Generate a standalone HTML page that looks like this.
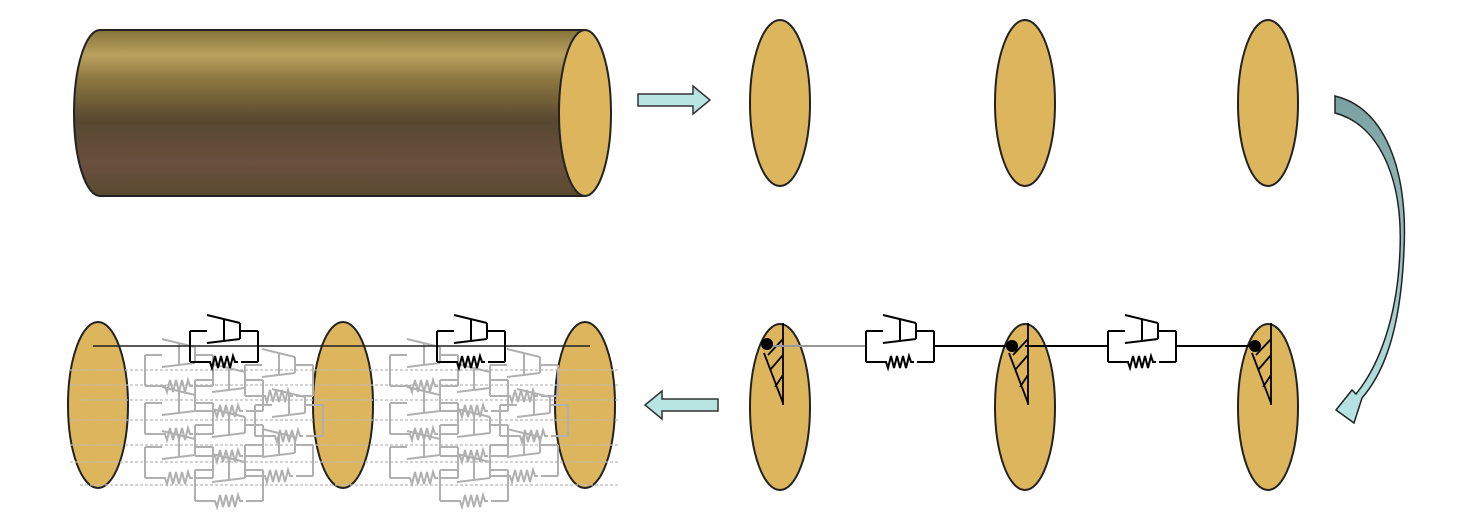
<!DOCTYPE html>
<html><head><meta charset="utf-8"><style>html,body{margin:0;padding:0;background:#fff}svg{display:block}</style></head><body>
<svg width="1476" height="531" viewBox="0 0 1476 531" xmlns="http://www.w3.org/2000/svg">
<defs>
<linearGradient id="cyl" x1="0" y1="0" x2="0" y2="1">
<stop offset="0" stop-color="#857238"/><stop offset="0.15" stop-color="#bba15f"/><stop offset="0.3" stop-color="#8c7640"/>
<stop offset="0.55" stop-color="#574830"/><stop offset="0.8" stop-color="#6a4f3e"/><stop offset="1" stop-color="#5a4a30"/></linearGradient>
<linearGradient id="arr" x1="0" y1="0" x2="0" y2="1"><stop offset="0" stop-color="#7aa0a0"/><stop offset="1" stop-color="#b8e6e4"/></linearGradient>
<g id="kv" fill="none" stroke-width="2">
<path d="M0,-15V16M68,-15V16M0,-15H17M0,16H17M51,16H68M51,-15H68"/>
<path d="M17,-31L50,-23M17,-3L50,-7M34,-27V-5M50,-23V-7"/>
<path d="M17,16h3l2,6l3,-12l3,12l3,-12l3,12l3,-12l3,12l3,-12l2,6h3"/>
</g>
<g id="sup" fill="none" stroke="#000" stroke-width="1.8">
<path d="M3,-82V0M-16,-52L3,-2M3,-50L-10,-35M3,-30L-5,-18M3,-66L-12,-50"/>
</g>
</defs>
<path d="M100,30H585V196H100Z" fill="url(#cyl)"/>
<ellipse cx="100" cy="113" rx="26" ry="83" fill="url(#cyl)"/>
<path d="M100,30H585M100,196H585" stroke="#222" stroke-width="2"/>
<path d="M100,30A26,83 0 0 0 100,196" fill="none" stroke="#222" stroke-width="2"/>
<ellipse cx="585" cy="113" rx="26" ry="83" fill="#ddb55c" stroke="#222" stroke-width="2"/>
<g fill="#ddb55c" stroke="#222" stroke-width="2">
<ellipse cx="780" cy="103" rx="30" ry="83"/><ellipse cx="1025" cy="103" rx="30" ry="83"/><ellipse cx="1268" cy="103" rx="30" ry="83"/>
<ellipse cx="780" cy="407" rx="30" ry="83"/><ellipse cx="1025" cy="407" rx="30" ry="83"/><ellipse cx="1268" cy="407" rx="30" ry="83"/>
<ellipse cx="98" cy="405" rx="30" ry="83"/><ellipse cx="343" cy="405" rx="30" ry="83"/><ellipse cx="585" cy="405" rx="30" ry="83"/>
</g>
<path d="M638,94H693V86L710,100L693,114V106H638Z" fill="#b8e4e2" stroke="#333" stroke-width="1.5"/>
<path d="M718,399H662V391L645,405L662,419V411H718Z" fill="#b8e4e2" stroke="#333" stroke-width="1.5"/>
<path d="M1335,96C1385,108 1408,170 1404,250C1401,320 1388,368 1362,398L1354,423L1336,410L1352,390L1356,394C1382,362 1398,310 1400,250C1403,180 1380,125 1335,113Z" fill="url(#arr)" stroke="#222" stroke-width="1.5"/>
<use href="#sup" x="780" y="405"/><use href="#sup" x="1025" y="405"/><use href="#sup" x="1268" y="405"/>
<path d="M933,346H1013M1025,346H1108M1175,346H1256" stroke="#000" stroke-width="2"/>
<path d="M768,346H866" stroke="#999" stroke-width="2"/>
<circle cx="767" cy="344" r="6"/><circle cx="1012" cy="346" r="6"/><circle cx="1255" cy="346" r="6"/>
<use href="#kv" x="866" y="346" stroke="#000"/><use href="#kv" x="1108" y="346" stroke="#000"/>
<g stroke="#bbb" stroke-width="1.3" fill="none">
<path d="M70,370H620M70,385H620M80,400H620M70,420H620M70,445H620M70,462H620M80,485H620" stroke-dasharray="3,2"/>
</g>
<g stroke="#b0b0b0" stroke-width="1.2">
<use href="#kv" x="145" y="370"/><use href="#kv" x="195" y="395"/><use href="#kv" x="145" y="418"/><use href="#kv" x="195" y="440"/><use href="#kv" x="145" y="462"/><use href="#kv" x="195" y="485"/>
<use href="#kv" x="245" y="380"/><use href="#kv" x="255" y="420"/><use href="#kv" x="245" y="460"/>
<use href="#kv" x="390" y="370"/><use href="#kv" x="440" y="395"/><use href="#kv" x="390" y="418"/><use href="#kv" x="440" y="440"/><use href="#kv" x="390" y="462"/><use href="#kv" x="440" y="485"/>
<use href="#kv" x="490" y="380"/><use href="#kv" x="500" y="420"/><use href="#kv" x="490" y="460"/>
</g>
<path d="M93,346H590" stroke="#222" stroke-width="1.5"/>
<g stroke="#000"><use href="#kv" x="190" y="346"/><use href="#kv" x="437" y="346"/></g>
</svg>
</body></html>
